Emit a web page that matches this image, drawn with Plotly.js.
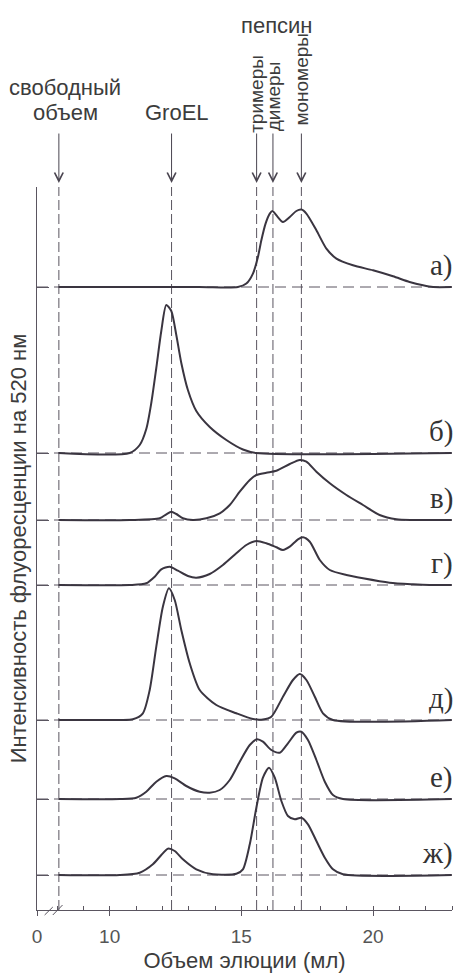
<!DOCTYPE html>
<html>
<head>
<meta charset="utf-8">
<script src="https://cdn.plot.ly/plotly-3.0.1.min.js"></script>
<style>
html,body{margin:0;padding:0;background:#fff;}
#chart{width:454px;height:976px;}
</style>
</head>
<body>
<div id="chart"></div>
<script>
// ---- data (elution volume, ml ; fluorescence intensity, arbitrary units) ----
const panelLabels = ['а)', 'б)', 'в)', 'г)', 'д)', 'е)', 'ж)'];
// vertical stacking offset of each trace (arbitrary units)
const baselines = [623, 457, 390, 325, 190, 111, 35];

const volumeA = [8.06, 13.4, 14.87, 15.19, 15.44, 15.63, 15.76, 15.92, 16.08, 16.18, 16.33, 16.58, 16.84, 17.09, 17.28, 17.47, 17.85, 18.23, 18.61, 19.24, 20.0, 20.76, 21.39, 21.9, 22.28, 22.99];
const intensityA = [0, 0, 0, 3.4, 13.4, 30, 46.7, 63.4, 73.4, 76, 71.7, 65, 70, 76, 77.4, 73.4, 56.7, 38.4, 28.4, 21.7, 16.7, 10.7, 5, 1.7, 0, 0];

const volumeB = [8.06, 10.76, 11.14, 11.39, 11.58, 11.77, 11.96, 12.15, 12.34, 12.53, 12.72, 12.97, 13.29, 13.80, 14.43, 15.06, 15.57, 22.99];
const intensityB = [0, 0, 8, 24, 50, 85, 122, 148, 142, 118, 90, 63, 42, 26, 13, 3.5, 0, 0];

const volumeC = [8.06, 10.76, 11.90, 12.15, 12.34, 12.53, 12.78, 13.16, 13.67, 14.18, 14.56, 14.94, 15.32, 15.57, 15.95, 16.33, 16.84, 17.22, 17.47, 17.85, 18.36, 18.99, 19.62, 20.25, 20.89, 21.52, 22.99];
const intensityC = [0, 0, 1.7, 5.7, 8.3, 6, 1.7, 0, 1.7, 6.7, 15, 28.3, 40, 45, 47.3, 49.3, 56, 60, 58.3, 48.3, 36.7, 25, 15, 5, 0.7, 0, 0];

const volumeD = [8.06, 10.76, 11.39, 11.71, 11.96, 12.28, 12.59, 12.97, 13.29, 13.80, 14.30, 14.81, 15.19, 15.57, 15.95, 16.33, 16.58, 16.84, 17.15, 17.34, 17.60, 17.98, 18.36, 18.99, 19.62, 20.63, 21.52, 22.15, 22.99];
const intensityD = [0, 0, 1.7, 8.3, 15.7, 18.3, 14.3, 9, 7.3, 11, 20, 31.7, 40, 44, 41.7, 37.7, 35, 38.3, 45.7, 47.7, 43.3, 25, 15, 10, 6.7, 2.3, 0.7, 0, 0];

const volumeE = [8.06, 10.38, 10.88, 11.26, 11.52, 11.77, 12.02, 12.25, 12.47, 12.72, 13.04, 13.42, 14.05, 14.81, 15.44, 15.82, 16.14, 16.58, 16.96, 17.22, 17.47, 17.79, 18.10, 18.48, 22.99];
const intensityE = [0, 0, 0.7, 6.7, 30, 73.3, 113.3, 131.7, 120, 90, 56.7, 30, 15, 6.7, 1, 0.6, 3.3, 23.3, 40, 46, 40, 23.3, 6.7, 0, 0];

const volumeF = [8.06, 10.38, 11.01, 11.39, 11.77, 12.15, 12.47, 12.91, 13.42, 13.80, 14.18, 14.56, 14.94, 15.32, 15.59, 15.82, 16.14, 16.46, 16.77, 17.09, 17.28, 17.53, 17.85, 18.17, 18.48, 18.86, 22.99];
const intensityF = [0, 0, 1.3, 7.3, 17.3, 23, 20.7, 13, 7.3, 6.3, 9, 19, 37.3, 54, 59.7, 57.3, 49, 46.3, 55.7, 66.3, 67.3, 59, 39, 17.3, 4, 0, 0];

const volumeG = [8.06, 10.38, 11.14, 11.64, 11.96, 12.21, 12.47, 12.78, 13.29, 13.92, 14.81, 15.06, 15.32, 15.57, 15.82, 16.05, 16.27, 16.52, 16.77, 17.03, 17.28, 17.53, 17.85, 18.17, 18.48, 18.86, 22.99];
const intensityG = [0, 0, 2.3, 10.7, 20, 26.3, 24, 15.7, 5.7, 0.7, 1.3, 5.7, 30.7, 67.3, 97.3, 107.3, 97.3, 74, 59, 55.7, 57.3, 50.7, 34, 17.3, 5.7, 0.7, 0];

// characteristic elution volumes (ml)
const markerNames = ['free', 'GroEL', 'trimers', 'dimers', 'monomers'];
const markerVolumes = [8.07, 12.35, 15.58, 16.2, 17.28];

// x axis tick labels (axis is broken between 0 and ~8 ml)
const axisBreakStart = 7.24;
const xTickValues = [axisBreakStart, 10, 15, 20];
const xTickLabels = ['0', '10', '15', '20'];

// ---- build ----
const volumes = [volumeA, volumeB, volumeC, volumeD, volumeE, volumeF, volumeG];
const intensities = [intensityA, intensityB, intensityC, intensityD, intensityE, intensityF, intensityG];

const curveColor = '#3a3540';
const guideColor = '#5a5560';
const textColor = '#3c3c3c';
const sans = 'Liberation Sans, Arial, sans-serif';
const serif = 'Liberation Serif, Times New Roman, serif';

const traces = volumes.map((v, i) => ({
  type: 'scatter', mode: 'lines',
  x: v,
  y: intensities[i].map(h => h + baselines[i]),
  line: {color: curveColor, width: 2, shape: 'spline', smoothing: 0.7},
  hoverinfo: 'skip', showlegend: false
}));

const shapes = [];
markerVolumes.forEach(v => shapes.push({
  type: 'line', layer: 'below', xref: 'x', yref: 'paper',
  x0: v, x1: v, y0: 0, y1: 1,
  line: {color: guideColor, width: 1, dash: '10px,4px'}
}));
baselines.forEach(b => shapes.push({
  type: 'line', layer: 'below', xref: 'paper', yref: 'y',
  x0: 0, x1: 1, y0: b, y1: b,
  line: {color: guideColor, width: 1, dash: '11px,6px'}
}));
// axis break marks "//"
shapes.push({type: 'line', xref: 'x', yref: 'paper', x0: 7.53, x1: 7.84, y0: -0.0069, y1: 0.0041, line: {color: guideColor, width: 1}});
shapes.push({type: 'line', xref: 'x', yref: 'paper', x0: 7.84, x1: 8.21, y0: -0.0069, y1: 0.0069, line: {color: guideColor, width: 1}});

const annotations = [];
// arrows
markerVolumes.forEach(v => annotations.push({
  x: v, y: 1.0055, xref: 'x', yref: 'paper',
  ax: 0, ay: -51, axref: 'pixel', ayref: 'pixel',
  text: '', showarrow: true, arrowhead: 5, arrowsize: 1.7, arrowwidth: 1, arrowcolor: '#4a4550'
}));
// header texts
const hdrFont = {family: sans, size: 22, color: textColor};
annotations.push({x: 8.3, y: 1.1383, xref: 'x', yref: 'paper', xanchor: 'center', yanchor: 'middle',
  text: 'свободный', showarrow: false, font: hdrFont});
annotations.push({x: 8.33, y: 1.1037, xref: 'x', yref: 'paper', xanchor: 'center', yanchor: 'middle',
  text: 'объем', showarrow: false, font: hdrFont});
annotations.push({x: 12.54, y: 1.1037, xref: 'x', yref: 'paper', xanchor: 'center', yanchor: 'middle',
  text: 'GroEL', showarrow: false, font: hdrFont});
annotations.push({x: 16.34, y: 1.2227, xref: 'x', yref: 'paper', xanchor: 'center', yanchor: 'middle',
  text: 'пепсин', showarrow: false, font: hdrFont});
const rotNames = ['тримеры', 'димеры', 'мономеры'];
const rotX = [15.55, 16.25, 17.29];
const rotY = [1.1286, 1.1259, 1.1494];
rotNames.forEach((t, i) => annotations.push({
  x: rotX[i], y: rotY[i], xref: 'x', yref: 'paper', xanchor: 'center', yanchor: 'middle',
  text: t, textangle: -90, showarrow: false, font: {family: sans, size: 19, color: textColor}
}));
// panel labels
panelLabels.forEach((t, i) => annotations.push({
  x: 1.008, xref: 'paper', xanchor: 'right',
  y: baselines[i] + 3, yref: 'y', yanchor: 'bottom',
  text: t, showarrow: false, font: {family: serif, size: 29, color: '#333'}
}));

const layout = {
  width: 454, height: 976,
  margin: {l: 37, r: 2, t: 187, b: 66},
  paper_bgcolor: '#fff', plot_bgcolor: '#fff',
  showlegend: false,
  font: {family: sans, color: textColor},
  xaxis: {
    range: [axisBreakStart, 23.0],
    tickmode: 'array', tickvals: xTickValues, ticktext: xTickLabels,
    ticks: 'outside', ticklen: 5, tickcolor: guideColor,
    minor: {tickmode: 'linear', tick0: 0, dtick: 1, ticks: 'inside', ticklen: 4, tickcolor: guideColor},
    ticklabelstandoff: 4,
    tickfont: {family: sans, size: 19, color: '#555'},
    showline: true, linecolor: guideColor, linewidth: 1,
    showgrid: false, zeroline: false,
    title: {text: 'Объем элюции (мл)', font: {family: sans, size: 22, color: textColor}, standoff: 6}
  },
  yaxis: {
    range: [0, 723],
    tickmode: 'array', tickvals: baselines,
    ticks: 'inside', ticklen: 12, tickcolor: guideColor,
    showticklabels: false,
    showline: true, linecolor: guideColor, linewidth: 1,
    showgrid: false, zeroline: false,
    title: {text: 'Интенсивность флуоресценции на 520 нм', font: {family: sans, size: 22, color: textColor}, standoff: 3}
  },
  shapes: shapes,
  annotations: annotations
};

Plotly.newPlot('chart', traces, layout, {staticPlot: true, displayModeBar: false});
</script>
</body>
</html>
